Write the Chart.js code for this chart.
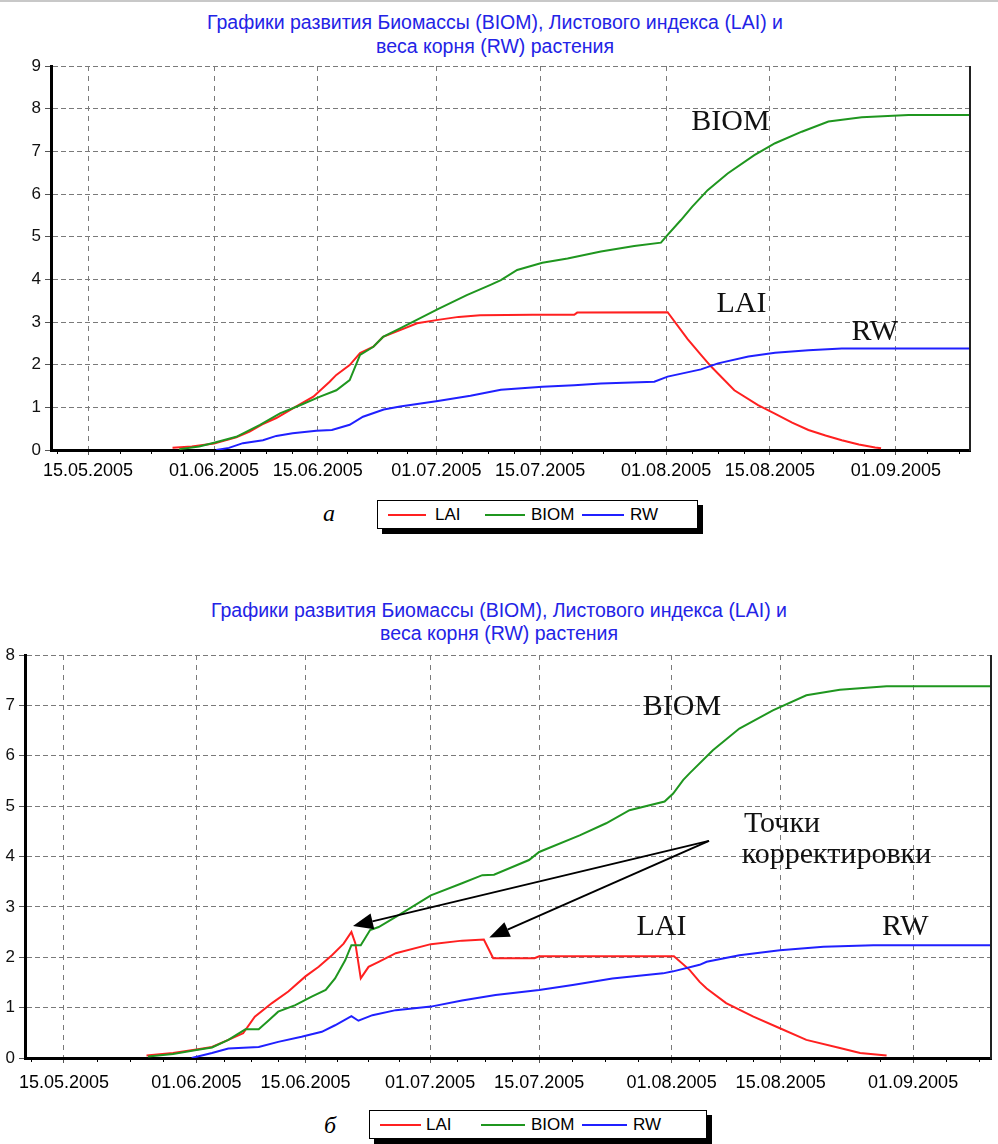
<!DOCTYPE html>
<html><head><meta charset="utf-8">
<script src="https://cdn.jsdelivr.net/npm/chart.js@4.4.1/dist/chart.umd.min.js"></script>
<style>
body{margin:0;background:#fff;}
#page{position:relative;width:998px;height:1144px;overflow:hidden;background:#fff;}
#topline{position:absolute;left:0;top:0;width:998px;height:2px;background:#c8c8c8;}
.title{position:absolute;left:0;width:998px;text-align:center;font:19.5px "Liberation Sans",Arial,sans-serif;color:#2323e6;line-height:24px;white-space:nowrap;}
.cw{position:absolute;left:0;width:998px;}
.legend{position:absolute;height:29px;border:1px solid #000;background:#fff;box-shadow:5px 5px 0 #000;box-sizing:border-box;font:17px "Liberation Sans",Arial,sans-serif;color:#000;}
.legend span{position:absolute;top:0;line-height:27px;white-space:nowrap;}
.legend i{position:absolute;top:13px;height:2px;}
.cap{position:absolute;font:italic 24px "Liberation Serif","Times New Roman",serif;color:#000;}
</style></head>
<body>
<div id="page">
  <div id="topline"></div>
  <div class="title" style="top:10px;left:-4px">Графики развития Биомассы (BIOM), Листового индекса (LAI) и</div>
  <div class="title" style="top:34px;left:-4px">веса корня (RW) растения</div>
  <div class="cw" style="top:0;height:490px"><canvas id="cA"></canvas></div>
  <div class="cap" style="left:323px;top:500px">а</div>
  <div class="legend" style="left:377px;top:500px;width:321px">
    <i style="left:10px;width:38px;background:#ff2020"></i><span style="left:57px">LAI</span>
    <i style="left:107px;width:40px;background:#1f961f"></i><span style="left:153px">BIOM</span>
    <i style="left:204px;width:42px;background:#2020ff"></i><span style="left:252px">RW</span>
  </div>

  <div class="title" style="top:598px">Графики развития Биомассы (BIOM), Листового индекса (LAI) и</div>
  <div class="title" style="top:621px">веса корня (RW) растения</div>
  <div class="cw" style="top:560px;height:538px"><canvas id="cB"></canvas></div>
  <div class="cap" style="left:324px;top:1112px">б</div>
  <div class="legend" style="left:369px;top:1110px;width:338px">
    <i style="left:10px;width:41px;background:#ff2020"></i><span style="left:56px">LAI</span>
    <i style="left:111px;width:44px;background:#1f961f"></i><span style="left:161px">BIOM</span>
    <i style="left:212px;width:45px;background:#2020ff"></i><span style="left:263px">RW</span>
  </div>
</div>
<script>
// ---- axis ticks (days counted from 15.05.2005) ----
const tickDays = [0, 17, 31, 47, 61, 78, 92, 109];
const tickLabels = ['15.05.2005','01.06.2005','15.06.2005','01.07.2005','15.07.2005','01.08.2005','15.08.2005','01.09.2005'];
const xMin = -5, xMax = 119;

// ---- chart a ----
const aLaiDays = [11.4,14,17,20,21.8,23.5,25.4,28.1,30.4,32.6,33.5,35.3,36.7,38.5,39.8,42.1,44.4,47.2,50,52.9,60,65.6,66,78.2,80.9,82.7,84.1,87.2,90.4,92.6,95,97.2,99.5,101.7,104,106.2,107];
const aLaiVals = [0.05,0.08,0.15,0.3,0.43,0.6,0.75,1.02,1.25,1.6,1.76,1.99,2.27,2.42,2.65,2.81,2.97,3.05,3.12,3.16,3.17,3.17,3.22,3.23,2.6,2.23,1.95,1.4,1.05,0.86,0.64,0.47,0.34,0.23,0.13,0.06,0.04];
const aBiomDays = [12.3,15,17,20,23.2,25.9,28.6,31.3,33.5,35.3,36.7,38.5,39.8,42.1,47.2,51.1,54.3,55.7,57.9,61.3,64.7,69.2,73.7,77.3,78.2,80,81.5,83.6,86.3,89.9,92.7,96.3,99.9,104.4,110.7,119];
const aBiomVals = [0.02,0.08,0.17,0.31,0.59,0.86,1.05,1.25,1.4,1.64,2.23,2.42,2.65,2.85,3.3,3.63,3.87,3.98,4.22,4.39,4.49,4.65,4.78,4.86,5.04,5.39,5.7,6.09,6.48,6.91,7.19,7.46,7.7,7.8,7.85,7.85];
const aRwDays = [17.3,19,20.9,23.6,25.4,27.6,30.8,32.9,35.3,37.1,39.9,42.1,47.2,51.6,55.7,61.3,65.6,69.2,76.4,78.2,82.7,85,89.1,92.7,97.2,101.7,119];
const aRwVals = [0,0.05,0.16,0.23,0.33,0.39,0.45,0.47,0.59,0.78,0.95,1.02,1.15,1.27,1.41,1.48,1.52,1.56,1.6,1.72,1.89,2.03,2.19,2.28,2.34,2.38,2.38];

// ---- chart b ----
const bLaiDays = [10.6,14,17,19,21.1,23,24.5,26.7,28.8,31,32.7,34.4,35.9,36.9,37.4,38.1,39.1,40.4,42.6,47.1,51.1,53.9,55.1,60.4,61,78.3,80.3,81.6,82.5,85,88.5,91.9,95.3,99.6,102.2,105.6];
const bLaiVals = [0.05,0.1,0.17,0.22,0.36,0.49,0.82,1.09,1.32,1.62,1.81,2.04,2.27,2.5,2.28,1.58,1.81,1.91,2.08,2.26,2.33,2.35,1.98,1.98,2.02,2.02,1.75,1.51,1.38,1.09,0.82,0.59,0.36,0.2,0.1,0.05];
const bBiomDays = [10.8,14,17,19,21.1,23.3,25,26.3,27.5,29.7,31.8,33.6,34.8,36.1,36.9,38.1,39.3,40.4,42.6,47.1,51.1,53.7,55.2,59.7,61,66.2,69.6,72.6,77.1,78.2,79.5,80.3,83.3,86.7,91,95.3,99.6,105.6,119];
const bBiomVals = [0.03,0.08,0.16,0.21,0.36,0.57,0.57,0.75,0.92,1.05,1.22,1.35,1.58,1.94,2.24,2.24,2.54,2.6,2.8,3.23,3.47,3.63,3.64,3.93,4.09,4.42,4.66,4.92,5.09,5.25,5.52,5.65,6.11,6.54,6.9,7.2,7.31,7.38,7.38];
const bRwDays = [16.4,19,21.1,25,27.5,30.5,33.1,34.8,36.9,37.8,39.6,42.6,47.1,51.1,55.4,61,65.3,70.4,76.9,78.2,81.6,82.5,86.7,91.9,97.5,103.9,119];
const bRwVals = [0,0.1,0.19,0.22,0.32,0.42,0.52,0.65,0.83,0.74,0.85,0.95,1.02,1.14,1.25,1.35,1.45,1.58,1.68,1.72,1.85,1.91,2.04,2.14,2.21,2.24,2.24];

const seriesNames = ['LAI','BIOM','RW'];
const seriesColors = ['#ff2020','#1f961f','#2020ff'];

// ---- annotations (data units) ----
const aNotes = [{t:'BIOM',x:81.4,y:7.5},{t:'LAI',x:84.8,y:3.23},{t:'RW',x:103,y:2.58}];
const bNotes = [{t:'BIOM',x:74.3,y:6.8},{t:'Точки',x:87.3,y:4.48},{t:'корректировки',x:87.0,y:3.87},{t:'LAI',x:73.5,y:2.44},{t:'RW',x:105,y:2.44}];
const bArrows = [{x1:82.8,y1:4.31,x2:37.1,y2:2.62},{x1:82.8,y1:4.31,x2:54.6,y2:2.39}];

function pts(days, vals){ return days.map((d,i)=>({x:d,y:vals[i]})); }

const decor = {
  id:'decor',
  afterDraw(chart){
    const o = chart.options.plugins.decor || {};
    const {ctx, chartArea:a, scales:{x,y}} = chart;
    ctx.save();
    // right frame
    ctx.strokeStyle='#222'; ctx.lineWidth=2;
    ctx.beginPath(); ctx.moveTo(a.right,a.top); ctx.lineTo(a.right,a.bottom+1); ctx.stroke();
    // minor ticks on x axis (3 between labelled ticks)
    ctx.strokeStyle='#000'; ctx.lineWidth=1;
    const minor=[];
    for(let i=0;i<tickDays.length-1;i++){
      const st=(tickDays[i+1]-tickDays[i])/4;
      for(let k=1;k<4;k++) minor.push(tickDays[i]+st*k);
    }
    const st0=(tickDays[1]-tickDays[0])/4;
    for(let v=tickDays[0]-st0; v>xMin; v-=st0) minor.push(v);
    const stN=(tickDays[tickDays.length-1]-tickDays[tickDays.length-2])/4;
    for(let v=tickDays[tickDays.length-1]+stN; v<xMax; v+=stN) minor.push(v);
    minor.forEach(v=>{
      const px=Math.round(x.getPixelForValue(v))+0.5;
      ctx.beginPath(); ctx.moveTo(px,a.bottom+1); ctx.lineTo(px,a.bottom+4); ctx.stroke();
    });
    // notes
    ctx.fillStyle='#111';
    ctx.font='30px "Liberation Serif","Times New Roman",serif';
    ctx.textAlign='left'; ctx.textBaseline='alphabetic';
    (o.notes||[]).forEach(n=>{ ctx.fillText(n.t, x.getPixelForValue(n.x), y.getPixelForValue(n.y)); });
    // arrows
    (o.arrows||[]).forEach(r=>{
      const X1=x.getPixelForValue(r.x1), Y1=y.getPixelForValue(r.y1);
      const X2=x.getPixelForValue(r.x2), Y2=y.getPixelForValue(r.y2);
      const ang=Math.atan2(Y2-Y1,X2-X1), L=20, W=8;
      const bx=X2-L*Math.cos(ang), by=Y2-L*Math.sin(ang);
      ctx.strokeStyle='#000'; ctx.lineWidth=2;
      ctx.beginPath(); ctx.moveTo(X1,Y1); ctx.lineTo(bx,by); ctx.stroke();
      ctx.fillStyle='#000';
      ctx.beginPath(); ctx.moveTo(X2,Y2);
      ctx.lineTo(bx+W*Math.sin(ang), by-W*Math.cos(ang));
      ctx.lineTo(bx-W*Math.sin(ang), by+W*Math.cos(ang));
      ctx.closePath(); ctx.fill();
    });
    ctx.restore();
  }
};

function makeChart(id, data, yMax, cfg){
  const sets = data.map((d,i)=>({
    label: seriesNames[i], data: d, borderColor: seriesColors[i], backgroundColor: seriesColors[i],
    borderWidth: 2, pointRadius: 0, tension: 0, fill: false, order: 3-i
  }));
  return new Chart(document.getElementById(id), {
    type:'line',
    data:{datasets:sets},
    plugins:[decor],
    options:{
      responsive:true, maintainAspectRatio:false, animation:false,
      layout:{padding:{top:cfg.top, left:0, right:cfg.right, bottom:0}},
      plugins:{legend:{display:false}, tooltip:{enabled:false}, title:{display:false},
        decor:{notes:cfg.notes, arrows:cfg.arrows}},
      scales:{
        x:{type:'linear', min:xMin, max:xMax,
          afterBuildTicks(s){ s.ticks = tickDays.map(v=>({value:v})); },
          afterFit(s){ s.height = 40; },
          ticks:{autoSkip:false, maxRotation:0, minRotation:0, padding:cfg.xPad, color:'#000',
            font:{family:'"Liberation Sans", Arial, sans-serif', size:18},
            callback(v){ const i=tickDays.indexOf(v); return i>=0?tickLabels[i]:''; }},
          grid:{color:'#7a7a7a', lineWidth:1, tickLength:5, tickColor:'#555'},
          border:{display:true, color:'#000', width:3, dash:[5,5]}
        },
        y:{type:'linear', min:0, max:yMax,
          afterFit(s){ s.width = cfg.yw; },
          ticks:{stepSize:1, padding:4, color:'#111',
            font:{family:'"Liberation Sans", Arial, sans-serif', size:17}},
          grid:{color:'#7a7a7a', lineWidth:1, tickLength:6, tickColor:'#555'},
          border:{display:true, color:'#000', width:3, dash:[5,3]}
        }
      }
    }
  });
}

makeChart('cA', [pts(aLaiDays,aLaiVals), pts(aBiomDays,aBiomVals), pts(aRwDays,aRwVals)], 9,
  {top:66, right:28, yw:51, xPad:5, notes:aNotes, arrows:[]});
makeChart('cB', [pts(bLaiDays,bLaiVals), pts(bBiomDays,bBiomVals), pts(bRwDays,bRwVals)], 8,
  {top:95, right:7, yw:25, xPad:9, notes:bNotes, arrows:bArrows});
</script>
</body></html>
